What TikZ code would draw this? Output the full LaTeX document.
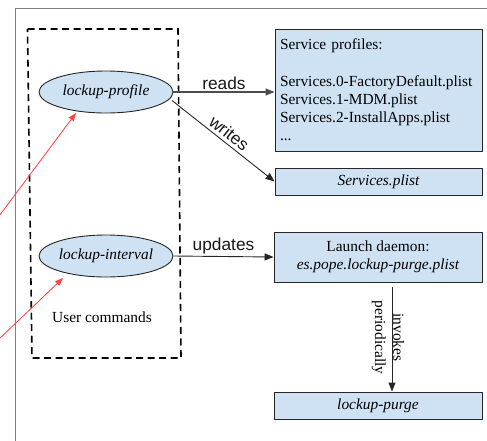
\documentclass[tikz,border=0pt]{standalone}
\usepackage{fontspec}
\setmainfont{Liberation Serif}
\setsansfont{Liberation Sans}
\usetikzlibrary{arrows.meta,shapes.geometric}
\definecolor{boxfill}{HTML}{CFE2F3}
\definecolor{redline}{HTML}{FF4545}
\tikzset{
  serif/.style={font=\fontsize{15.4}{18.2}\selectfont},
  boxnode/.style={draw=black!85, fill=boxfill, line width=0.9pt, rectangle, inner sep=0pt, serif},
  ellnode/.style={draw=black!85, fill=boxfill, line width=0.9pt, ellipse, inner sep=0pt, serif, minimum width=134pt, minimum height=42pt},
  conn/.style={-{Triangle[length=9pt,width=7pt]}, line width=0.9pt, draw=black!85},
  elabel/.style={font=\sffamily\fontsize{17.3}{19}\selectfont, text=black!90, inner sep=2pt},
  redarrow/.style={-{Triangle[length=8pt,width=6pt]}, draw=redline, fill=redline, line width=0.8pt},
}
\begin{document}
\begin{tikzpicture}[x=1pt,y=-1pt]
\useasboundingbox (0,0) rectangle (487,440);
% frame
\draw[black!50, line width=1pt] (15.5,441) -- (15.5,8) -- (488,8);
% dashed user command box
\draw[black, line width=1.6pt, dash pattern=on 7pt off 4.5pt] (27.5,29) -- (178,29) -- (181,358) -- (32,358) -- cycle;
% ellipses
\node[ellnode] (prof) at (106,92) {\itshape lockup-profile};
\node[ellnode] (intv) at (106,256) {\itshape lockup-interval};
\node[serif] (uc) at (102,317) {User commands};
% boxes
\node[boxnode, minimum width=207pt, minimum height=122pt, text width=197pt, align=left] (prof_box) at (378.5,90)
  {Service profiles:\\[18.2pt]Services.0-FactoryDefault.plist\\Services.1-MDM.plist\\Services.2-InstallApps.plist\\...};
\node[boxnode, minimum width=207pt, minimum height=27pt] (svc) at (378.5,181.5) {\itshape Services.plist};
\node[boxnode, minimum width=208pt, minimum height=50pt, align=center] (daemon) at (378,257)
  {Launch daemon:\\\itshape es.pope.lockup-purge.plist};
\node[boxnode, minimum width=208pt, minimum height=27pt] (purge) at (378,405.5) {\itshape lockup-purge};
% connectors
\draw[conn, draw=black!70, line width=1.3pt] (prof.east) -- (prof_box.west |- prof.east)
  node[elabel, midway, above] {reads};
\draw[conn] (172,100.5) -- (svc.west) node[elabel, midway, above, sloped, inner sep=3pt] {writes};
\draw[conn] (intv.east) -- (daemon.west) node[elabel, midway, above] {updates};
\coordinate (inv1) at (392,282);
\draw[conn] (392,287) -- (purge.north -| inv1);
\node[serif, rotate=-90, align=center, inner sep=0pt] (invlab) at (388,337.5) {invokes\\periodically};
% red arrows
\coordinate (r1) at (-2,217.5);
\coordinate (r2) at (-2,340);
\draw[redarrow] (r1) -- (76,113);
\draw[redarrow] (r2) -- (63,278);
\end{tikzpicture}
\end{document}
